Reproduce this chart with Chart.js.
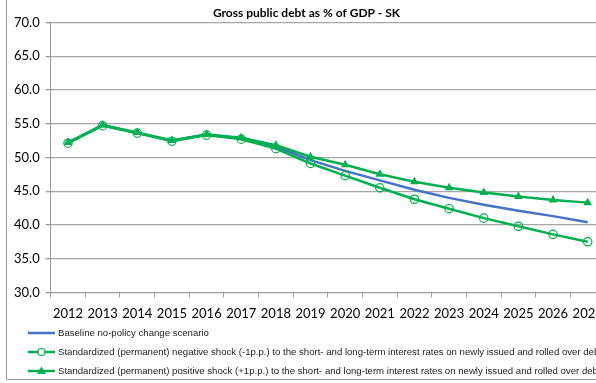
<!DOCTYPE html>
<html>
<head>
<meta charset="utf-8">
<script src="https://cdn.jsdelivr.net/npm/chart.js@4"></script>
<style>
  html, body { margin: 0; padding: 0; background: #fff; overflow: hidden; }
  #wrap { width: 612px; height: 383px; }
</style>
</head>
<body>
<div id="wrap"><canvas id="myChart" width="612" height="383"></canvas></div>
<script>
var anni = ['2012', '2013', '2014', '2015', '2016', '2017', '2018', '2019', '2020', '2021', '2022', '2023', '2024', '2025', '2026', '2027'];
var baseline = [52.2, 54.8, 53.6, 52.5, 53.4, 52.8, 51.6, 49.6, 48.0, 46.6, 45.2, 44.0, 43.0, 42.1, 41.3, 40.4];
var shockNeg = [52.1, 54.7, 53.6, 52.4, 53.3, 52.7, 51.3, 49.1, 47.3, 45.5, 43.8, 42.4, 41.0, 39.8, 38.6, 37.5];
var shockPos = [52.2, 54.8, 53.7, 52.5, 53.4, 52.9, 51.8, 50.1, 48.9, 47.5, 46.4, 45.5, 44.8, 44.2, 43.7, 43.3];
var tickY = [30, 35, 40, 45, 50, 55, 60, 65, 70];
var etichette = [
  'Baseline no-policy change scenario',
  'Standardized (permanent) negative shock (-1p.p.) to the short- and long-term interest rates on newly issued and rolled over debt',
  'Standardized (permanent) positive shock (+1p.p.) to the short- and long-term interest rates on newly issued and rolled over debt'
];

var blu = '#4472C4';
var verde = '#00B050';

// legenda e cornice disegnate a mano
var legendaPlugin = {
  id: 'legendaExcel',
  afterDraw(chart) {
    var ctx = chart.ctx;
    ctx.save();
    ctx.strokeStyle = '#9a9a9a';
    ctx.lineWidth = 1;
    ctx.beginPath();
    ctx.moveTo(6.5, 0);
    ctx.lineTo(6.5, 379.5);
    ctx.lineTo(chart.width, 379.5);
    ctx.stroke();

    var righe = [333, 352, 371];
    chart.data.datasets.forEach(function(ds, i) {
      var y = righe[i];
      ctx.strokeStyle = ds.borderColor;
      ctx.lineWidth = 2.5;
      ctx.beginPath();
      ctx.moveTo(28, y);
      ctx.lineTo(55, y);
      ctx.stroke();
      if (ds.pointStyle === 'circle') {
        ctx.fillStyle = '#fff';
        ctx.lineWidth = 1.2;
        ctx.beginPath();
        ctx.arc(41.5, y, 3.5, 0, Math.PI * 2);
        ctx.fill();
        ctx.stroke();
      } else if (ds.pointStyle === 'triangle') {
        ctx.fillStyle = ds.borderColor;
        ctx.beginPath();
        ctx.moveTo(41.5, y - 4.5);
        ctx.lineTo(46, y + 3);
        ctx.lineTo(37, y + 3);
        ctx.closePath();
        ctx.fill();
      }
      ctx.fillStyle = '#222';
      ctx.font = '9.6px "Liberation Sans", Arial, sans-serif';
      ctx.textBaseline = 'middle';
      ctx.textAlign = 'left';
      ctx.fillText(etichette[i], 58, y + 0.5);
    });
    ctx.restore();
  }
};

var ctx = document.getElementById('myChart');
var myChart = new Chart(ctx, {
  type: 'line',
  data: {
    labels: anni,
    datasets: [{
      label: etichette[0],
      data: baseline,
      borderColor: blu,
      borderWidth: 2.5,
      pointRadius: 0,
      pointStyle: false,
      order: 3
    }, {
      label: etichette[1],
      data: shockNeg,
      borderColor: verde,
      backgroundColor: 'rgba(0,0,0,0)',
      borderWidth: 2.5,
      pointStyle: 'circle',
      pointRadius: 4.2,
      pointBorderWidth: 1.2,
      pointBackgroundColor: 'rgba(255,255,255,0)',
      pointBorderColor: verde,
      order: 2
    }, {
      label: etichette[2],
      data: shockPos,
      borderColor: verde,
      backgroundColor: verde,
      borderWidth: 2.5,
      pointStyle: 'triangle',
      pointRadius: 5,
      pointBackgroundColor: verde,
      pointBorderColor: verde,
      pointBorderWidth: 0,
      order: 1
    }]
  },
  options: {
    responsive: false,
    animation: false,
    elements: { line: { tension: 0 } },
    layout: { padding: { left: 8, right: 7, top: 0, bottom: 52 } },
    plugins: {
      legend: { display: false },
      tooltip: { enabled: false },
      title: {
        display: true,
        text: 'Gross public debt as % of GDP - SK',
        color: '#000',
        font: { family: 'Lato', size: 12, weight: 'bold' },
        padding: { top: 6, bottom: 2 }
      }
    },
    scales: {
      x: {
        offset: true,
        grid: {
          display: true,
          offset: true,
          drawOnChartArea: false,
          drawTicks: true,
          tickLength: 5,
          color: '#9a9a9a'
        },
        border: { color: '#9a9a9a', width: 1 },
        ticks: {
          color: '#000',
          font: { family: 'Lato', size: 13 },
          padding: 9,
          maxRotation: 0,
          autoSkip: false
        }
      },
      y: {
        min: 30,
        max: 70,
        afterBuildTicks(scale) {
          scale.ticks = tickY.map(function(v) { return { value: v }; });
        },
        grid: {
          color: '#a6a6a6',
          lineWidth: 1.3,
          tickLength: 5,
          tickColor: '#9a9a9a'
        },
        border: { color: '#9a9a9a', width: 1 },
        ticks: {
          color: '#000',
          font: { family: 'Lato', size: 13 },
          padding: 6,
          callback: function(v) { return Number(v).toFixed(1); }
        }
      }
    }
  },
  plugins: [legendaPlugin]
});
</script>
</body>
</html>
